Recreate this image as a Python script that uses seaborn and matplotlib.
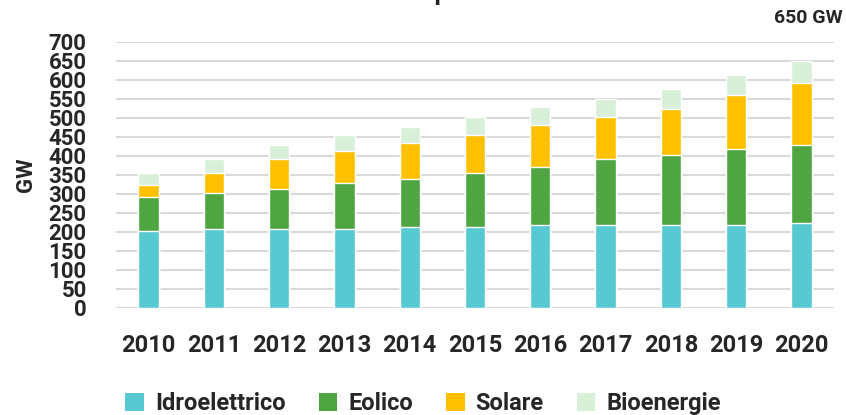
import pandas as pd
import matplotlib.pyplot as plt
import seaborn as sns
from matplotlib.patches import Patch

anni = ['2010', '2011', '2012', '2013', '2014', '2015', '2016', '2017', '2018', '2019', '2020']
idroelettrico = [201, 206, 206, 207, 212, 212, 217, 217, 217, 217, 222]
eolico = [90, 95, 106, 121, 127, 142, 153, 174, 184, 200, 206]
solare = [31, 53, 79, 84, 95, 101, 111, 110, 122, 143, 163]
bioenergie = [32, 37, 37, 43, 41, 47, 47, 48, 52, 52, 59]
yticks = list(range(0, 701, 50))

fonti = ['Idroelettrico', 'Eolico', 'Solare', 'Bioenergie']
colori = ['#57C9D0', '#4EA542', '#FFC000', '#D8F0D8']

df = pd.DataFrame({
    'anno': anni,
    'Idroelettrico': idroelettrico,
    'Eolico': eolico,
    'Solare': solare,
    'Bioenergie': bioenergie,
})
# somme cumulative per impilare le barre
cum = df[fonti].cumsum(axis=1)
cum['anno'] = df['anno']

sns.set_style('white')
plt.rcParams['font.family'] = ['Roboto', 'DejaVu Sans']
plt.rcParams['font.weight'] = 'bold'

fig = plt.figure(figsize=(8.46, 4.15), dpi=100)
ax = fig.add_axes([0.137, 0.259, 0.849, 0.6405])

# dal più alto al più basso, così ogni strato copre quello sotto
for fonte, colore in reversed(list(zip(fonti, colori))):
    sns.barplot(data=cum, x='anno', y=fonte, color=colore, width=0.31,
                saturation=1, ax=ax, zorder=3)

ax.set_ylim(0, 700)
ax.set_yticks(yticks)
ax.set_xlim(-0.5, len(anni) - 0.5)
ax.grid(axis='y', color='#D9D9D9', linewidth=1.5, zorder=0)
ax.grid(axis='x', visible=False)
sns.despine(ax=ax, left=True, bottom=True)
ax.tick_params(axis='both', length=0)
ax.tick_params(axis='y', pad=21, labelsize=16)
ax.tick_params(axis='x', pad=19, labelsize=17)
for lab in ax.get_xticklabels() + ax.get_yticklabels():
    lab.set_fontweight('bold')
ax.set_xlabel('')
ax.set_ylabel('GW', fontsize=16, fontweight='bold')
ax.yaxis.set_label_coords(-0.11, 0.5)

fig.text(0.5, 1.0, 'Europa', ha='center', va='baseline',
         fontsize=18, fontweight='bold')
fig.text(0.996, 0.957, '650 GW', ha='right', va='center',
         fontsize=14, fontweight='bold')

handles = [Patch(facecolor=c, edgecolor='none', label=f) for f, c in zip(fonti, colori)]
fig.legend(handles=handles, loc='center', bbox_to_anchor=(0.5, 0.028), ncol=4,
           frameon=False, fontsize=17, handlelength=0.8, handleheight=0.8,
           handletextpad=0.45, columnspacing=1.4, borderaxespad=0)

fig.savefig('out.png', dpi=100)
